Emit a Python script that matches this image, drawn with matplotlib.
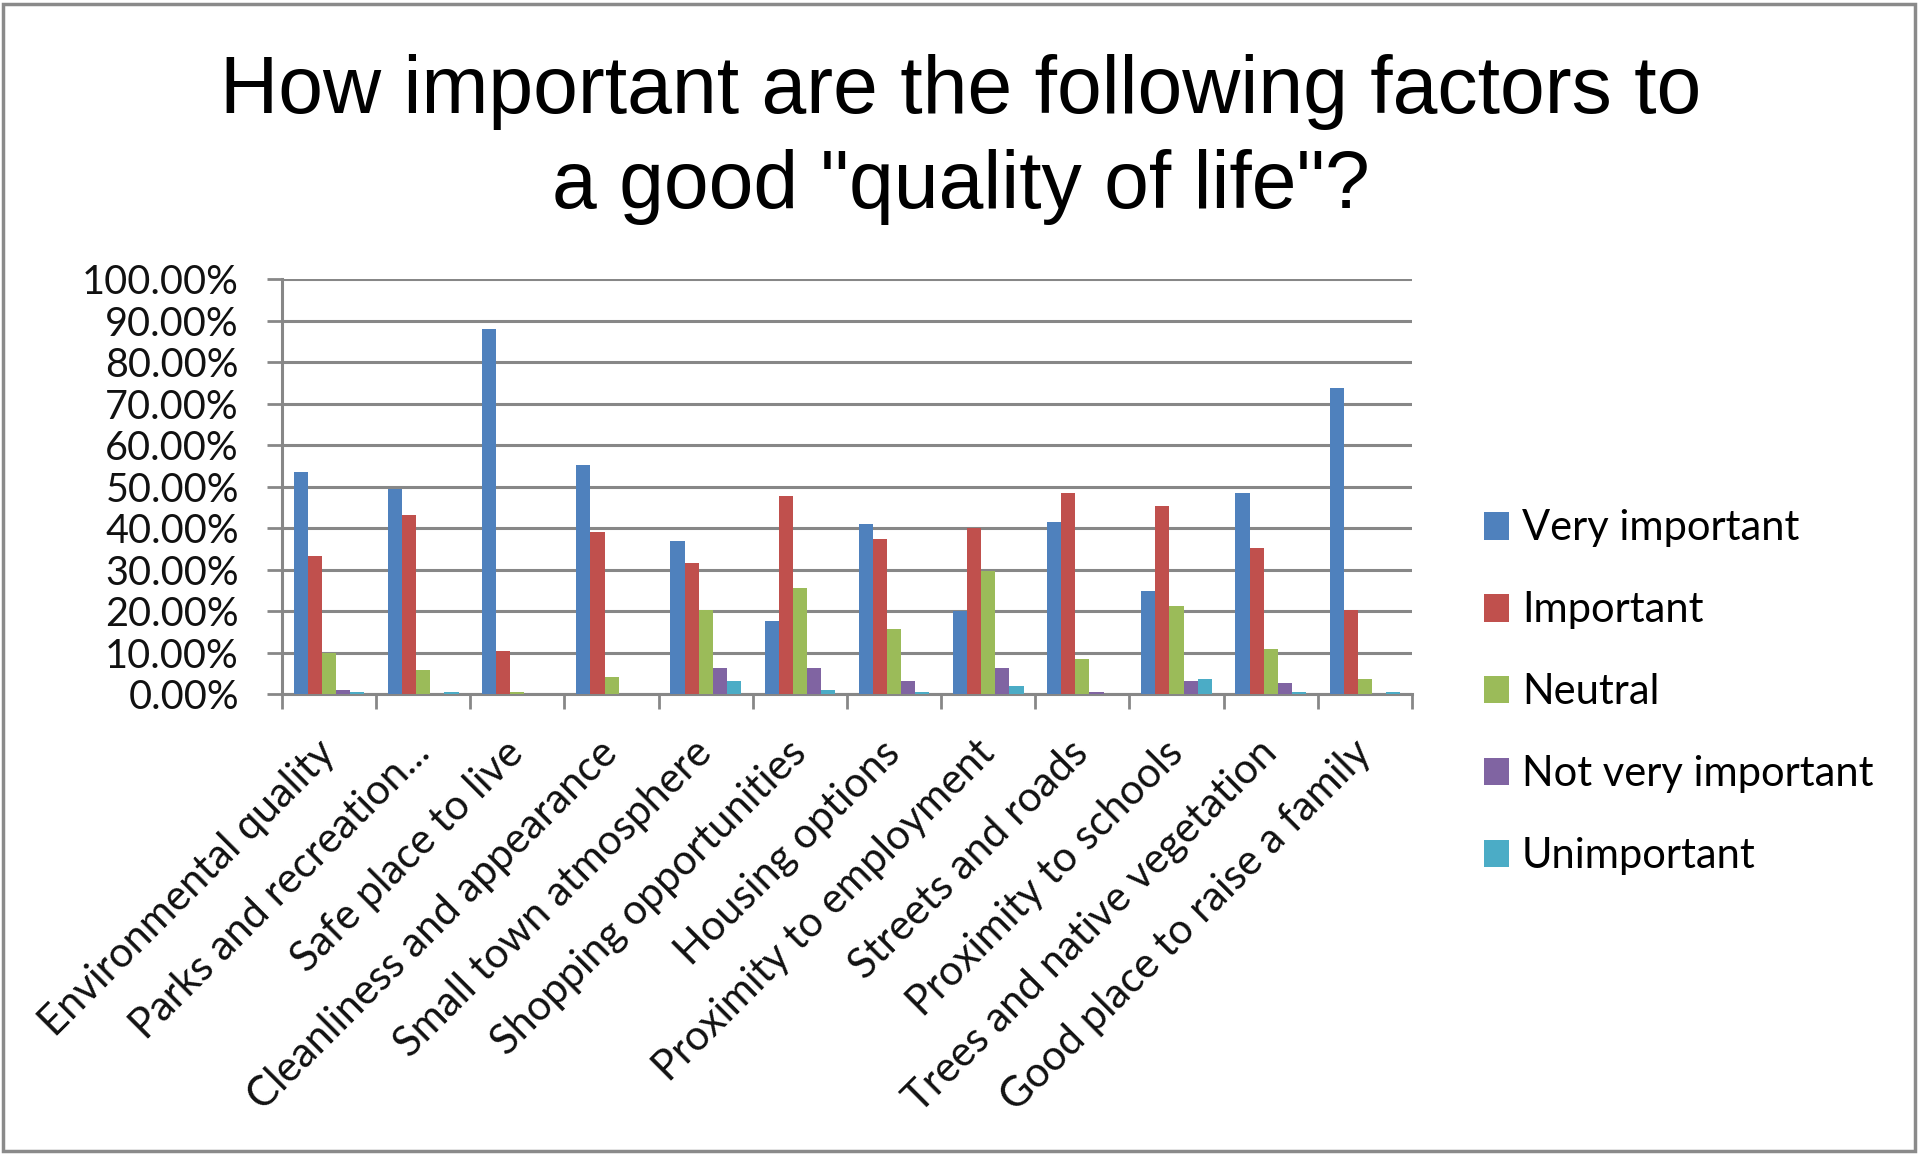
import matplotlib.pyplot as plt
from matplotlib.patches import Rectangle
from matplotlib.ticker import FuncFormatter
import numpy as np

# categories and survey shares
factors = [
    "Environmental quality",
    "Parks and recreation...",
    "Safe place to live",
    "Cleanliness and appearance",
    "Small town atmosphere",
    "Shopping opportunities",
    "Housing options",
    "Proximity to employment",
    "Streets and roads",
    "Proximity to schools",
    "Trees and native vegetation",
    "Good place to raise a family",
]
very_important = [0.536, 0.494, 0.879, 0.551, 0.369, 0.177, 0.410, 0.199, 0.415, 0.249, 0.484, 0.738]
important = [0.333, 0.431, 0.104, 0.390, 0.316, 0.478, 0.374, 0.400, 0.484, 0.452, 0.353, 0.202]
neutral = [0.098, 0.057, 0.005, 0.042, 0.202, 0.255, 0.156, 0.296, 0.084, 0.213, 0.109, 0.036]
not_very = [0.010, 0.0, 0.0, 0.0, 0.063, 0.063, 0.031, 0.063, 0.005, 0.031, 0.026, 0.0]
unimportant = [0.005, 0.005, 0.0, 0.0, 0.031, 0.010, 0.005, 0.020, 0.0, 0.036, 0.005, 0.005]

series_names = ["Very important", "Important", "Neutral", "Not very important", "Unimportant"]
colors = ["#4F81BD", "#C0504D", "#9BBB59", "#8064A2", "#4BACC6"]
grid_color = "#878787"

plt.rcParams["font.family"] = ["Lato", "DejaVu Sans"]

fig = plt.figure(figsize=(19.21, 11.54), dpi=100)
ax = fig.add_axes([0.1468, 0.3986, 0.5882, 0.3596])

all_series = [very_important, important, neutral, not_very, unimportant]
x = np.arange(len(factors)) + 0.5
w = 0.15
for i, (vals, name, c) in enumerate(zip(all_series, series_names, colors)):
    ax.bar(x + (i - 2) * w, vals, width=w, color=c, label=name, zorder=3)

ax.set_xlim(0, len(factors))
ax.set_ylim(0, 1.0)
ax.set_yticks(np.arange(0, 1.01, 0.1))
ax.yaxis.set_major_formatter(FuncFormatter(lambda v, p: "{:.2f}%".format(v * 100)))

# category boundaries get the tick marks, labels sit at the centres
ax.set_xticks(np.arange(0, len(factors) + 1))
ax.set_xticklabels([])
ax.set_xticks(x, minor=True)
ax.set_xticklabels(factors, minor=True, rotation=45, ha="right", va="center",
                   rotation_mode="anchor", fontsize=30, color="#111111")
ax.tick_params(axis="x", which="minor", length=0, pad=38)
ax.tick_params(axis="x", which="major", length=11, width=2, color=grid_color, direction="out")
ax.tick_params(axis="y", length=11, width=2, color=grid_color, direction="out",
               labelsize=28.5, labelcolor="#111111", pad=20)

ax.grid(axis="y", color=grid_color, linewidth=2.2, zorder=0)
ax.set_axisbelow(True)
for s in ["top", "right"]:
    ax.spines[s].set_visible(False)
for s in ["left", "bottom"]:
    ax.spines[s].set_color(grid_color)
    ax.spines[s].set_linewidth(2.2)

fig.text(0.5, 0.953, 'How important are the following factors to\na good "quality of life"?',
         ha="center", va="top", fontsize=58, family="Liberation Sans", linespacing=1.32)

ax.legend(loc="upper left", bbox_to_anchor=(0.764, 0.573), bbox_transform=fig.transFigure,
          frameon=False, fontsize=30, handlelength=0.6, handleheight=0.64,
          handletextpad=0.3, labelspacing=1.055, borderaxespad=0)

fig.patches.append(Rectangle((0.0015, 0.003), 0.9955, 0.9935, transform=fig.transFigure,
                             fill=False, edgecolor="#8a8a8a", linewidth=2.5))

fig.savefig("out.png", dpi=100)
